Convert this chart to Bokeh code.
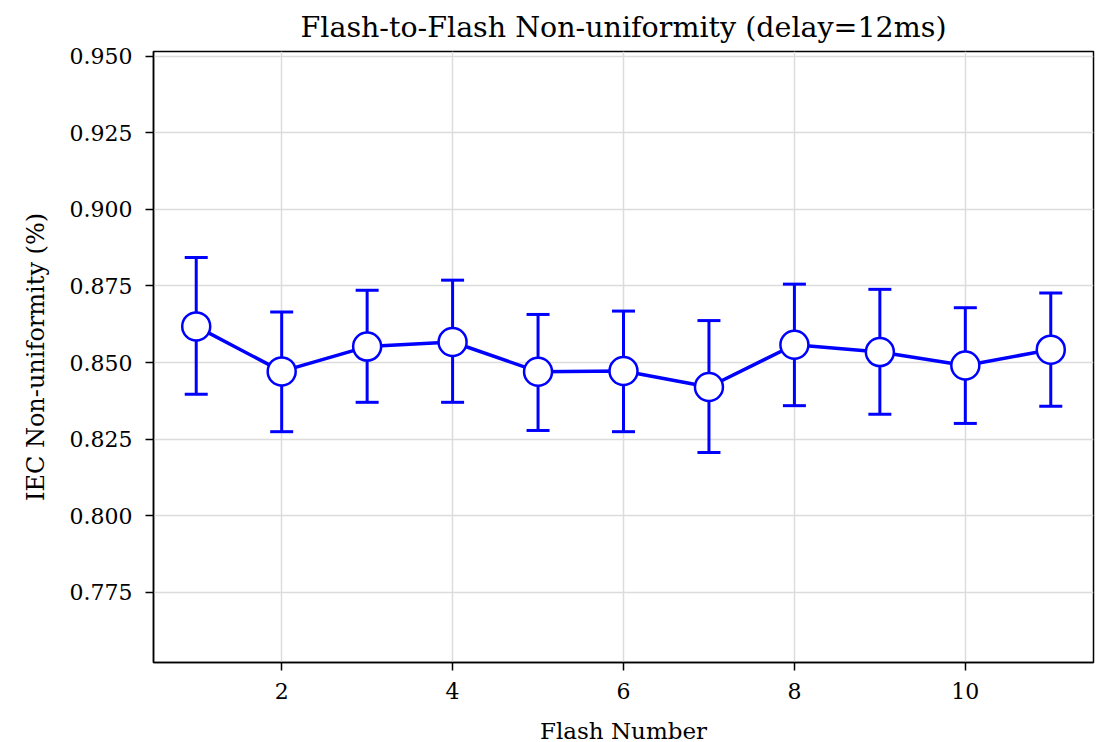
from bokeh.plotting import figure
from bokeh.models import ColumnDataSource, FixedTicker, NumeralTickFormatter, Range1d
from bokeh.embed import file_html
from bokeh.resources import INLINE

flash = [1, 2, 3, 4, 5, 6, 7, 8, 9, 10, 11]
mean = [0.8618, 0.8471, 0.8552, 0.8567, 0.8470, 0.8472, 0.8420, 0.8558, 0.8534, 0.8490, 0.8542]
upper = [0.8843, 0.8665, 0.8736, 0.8769, 0.8657, 0.8668, 0.8637, 0.8756, 0.8739, 0.8679, 0.8727]
lower = [0.8396, 0.8274, 0.8370, 0.8370, 0.8278, 0.8274, 0.8206, 0.8359, 0.8331, 0.8301, 0.8357]
y_ticks = [0.775, 0.800, 0.825, 0.850, 0.875, 0.900, 0.925, 0.950]
x_ticks = [2, 4, 6, 8, 10]

src = ColumnDataSource(dict(x=flash, y=mean, up=upper, lo=lower))

FONT = "DejaVu Serif"
BLUE = "#0000ff"

p = figure(
    width=1100, height=740,
    frame_width=940, frame_height=611,
    min_border_left=153, min_border_right=7, min_border_top=50, min_border_bottom=79,
    output_backend="svg", toolbar_location=None,
    x_range=Range1d(0.5, 11.5), y_range=Range1d(0.752, 0.9516),
    title="Flash-to-Flash Non-uniformity (delay=12ms)",
)

p.title.align = "center"
p.title.text_font = FONT
p.title.text_font_size = "28.5px"
p.title.text_font_style = "normal"
p.title.text_color = "black"
p.title.standoff = 16

p.background_fill_color = "white"
p.border_fill_color = "white"
p.outline_line_color = "black"
p.outline_line_width = 1.5
p.outline_line_alpha = 1.0

p.xgrid.grid_line_color = "#dcdcdc"
p.ygrid.grid_line_color = "#dcdcdc"
p.xgrid.grid_line_width = 1.5
p.ygrid.grid_line_width = 1.5

p.xaxis.ticker = FixedTicker(ticks=x_ticks)
p.yaxis.ticker = FixedTicker(ticks=y_ticks)
p.yaxis.formatter = NumeralTickFormatter(format="0.000")
p.xgrid.ticker = FixedTicker(ticks=x_ticks)
p.ygrid.ticker = FixedTicker(ticks=y_ticks)

for ax in (p.xaxis[0], p.yaxis[0]):
    ax.axis_line_color = "black"
    ax.axis_line_width = 1.5
    ax.major_tick_line_color = "black"
    ax.major_tick_line_width = 1.5
    ax.major_tick_in = 0
    ax.major_tick_out = 8
    ax.minor_tick_line_color = None
    ax.major_label_text_font = FONT
    ax.major_label_text_font_size = "22px"
    ax.major_label_text_color = "black"
    ax.axis_label_text_font = FONT
    ax.axis_label_text_font_style = "normal"
    ax.axis_label_text_color = "black"

p.xaxis.axis_label = "Flash Number"
p.yaxis.axis_label = "IEC Non-uniformity (%)"
p.xaxis.axis_label_text_font_size = "23px"
p.yaxis.axis_label_text_font_size = "24px"
p.xaxis.major_label_standoff = 12
p.xaxis.axis_label_standoff = 16
p.yaxis.major_label_standoff = 13
p.yaxis.axis_label_standoff = 17

# error bars
p.segment(x0="x", y0="lo", x1="x", y1="up", source=src, line_color=BLUE, line_width=3)
p.dash(x="x", y="up", source=src, size=23, line_color=BLUE, line_width=3)
p.dash(x="x", y="lo", source=src, size=23, line_color=BLUE, line_width=3)

# connecting line and markers
p.line(x="x", y="y", source=src, line_color=BLUE, line_width=3.5)
p.scatter(x="x", y="y", source=src, marker="circle", size=28,
          fill_color="white", line_color=BLUE, line_width=2.5)

open("out.html", "w").write(file_html(p, INLINE))
